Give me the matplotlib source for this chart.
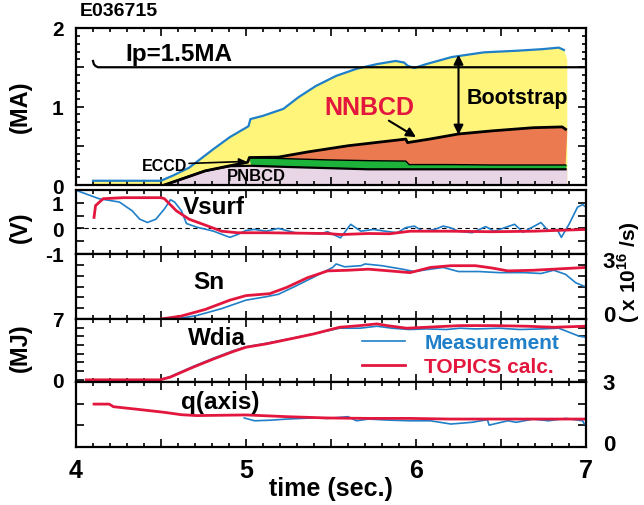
import numpy as np
import matplotlib
matplotlib.use('Agg')
import matplotlib.pyplot as plt
from matplotlib.ticker import MultipleLocator, FixedLocator

plt.rcParams['font.family'] = ['Liberation Sans', 'DejaVu Sans']
plt.rcParams['font.weight'] = 'bold'
plt.rcParams['axes.labelweight'] = 'bold'
plt.rcParams['mathtext.fontset'] = 'custom'
plt.rcParams['mathtext.rm'] = 'Liberation Sans:bold'
plt.rcParams['mathtext.bf'] = 'Liberation Sans:bold'

BLUE = '#1f7fc8'
RED = '#e3173e'
YELLOW = '#fff57a'
ORANGE = '#ec7a50'
GREEN = '#1db33a'
PINK = '#e8d5e5'

# ---- top panel: currents (MA)
ip_t = [4.10, 4.105, 4.115, 4.13, 4.5, 7.0]
ip_v = [1.58, 1.54, 1.515, 1.50, 1.50, 1.50]

tot_t = [4.10, 4.50, 4.57, 4.665, 4.81, 4.905, 5.0, 5.015, 5.026, 5.098, 5.22, 5.31, 5.41,
         5.53, 5.65, 5.77, 5.88, 5.93, 5.95, 5.99, 6.06, 6.21, 6.40, 6.59, 6.74, 6.84, 6.87]
tot_v = [0.054, 0.054, 0.12, 0.22, 0.46, 0.61, 0.73, 0.75, 0.84, 0.88, 0.97, 1.12, 1.26,
         1.39, 1.48, 1.54, 1.58, 1.56, 1.52, 1.49, 1.54, 1.63, 1.69, 1.71, 1.73, 1.75, 1.72]

nb_t = [4.52, 4.64, 4.76, 4.905, 5.01, 5.02, 5.19, 5.36, 5.60, 5.84, 5.94, 5.95,
        6.08, 6.25, 6.45, 6.69, 6.86, 6.88]
nb_v = [0.0, 0.09, 0.18, 0.245, 0.29, 0.35, 0.355, 0.42, 0.50, 0.56, 0.585, 0.54,
        0.585, 0.65, 0.69, 0.73, 0.74, 0.71]

ec_t = [5.02, 5.24, 5.48, 5.72, 5.94, 5.96, 6.21, 6.45, 6.88]
ec_v = [0.35, 0.335, 0.32, 0.31, 0.305, 0.26, 0.26, 0.255, 0.255]

pn_t = [4.52, 4.64, 4.76, 4.905, 5.03, 5.24, 5.48, 5.72, 5.96, 6.21, 6.88]
pn_v = [0.0, 0.09, 0.18, 0.24, 0.245, 0.23, 0.215, 0.20, 0.20, 0.20, 0.20]

# ---- Vsurf (V)
vs_meas_t = [4.0, 4.135, 4.255, 4.33, 4.375, 4.42, 4.47, 4.52, 4.556, 4.58, 4.62, 4.65, 4.71,
             4.81, 4.905, 4.95, 5.0, 5.05, 5.12, 5.19, 5.29, 5.435, 5.48, 5.556, 5.616, 5.676,
             5.75, 5.82, 5.89, 5.94, 5.99, 6.04, 6.11, 6.16, 6.2, 6.25, 6.33, 6.41, 6.46, 6.58,
             6.63, 6.735, 6.78, 6.83, 6.855, 6.9, 6.95, 6.98, 7.0]
vs_meas_v = [1.49, 1.16, 1.03, 0.69, 0.36, 0.23, 0.36, 0.76, 1.12, 1.03, 0.69, 0.19, 0.05,
             -0.11, -0.35, -0.24, -0.08, -0.04, -0.11, 0.0, -0.17, -0.21, -0.13, -0.37, 0.16, -0.11,
             -0.04, -0.11, -0.17, 0.03, 0.09, -0.11, -0.04, 0.09, 0.03, -0.11, -0.17, 0.07, -0.11, 0.16,
             -0.15, 0.23, -0.11, -0.04, -0.35, 0.16, 0.83, 0.93, 0.83]
vs_calc_t = [4.106, 4.115, 4.16, 4.28, 4.50, 4.52, 4.59, 4.665, 4.76, 4.857, 4.95, 5.12,
             5.48, 5.556, 5.72, 5.845, 5.965, 6.2, 6.45, 6.69, 7.0]
vs_calc_v = [0.43, 0.89, 1.16, 1.2, 1.2, 1.16, 0.69, 0.36, 0.13, -0.11, -0.17, -0.17,
             -0.2, -0.24, -0.2, -0.21, -0.11, -0.11, -0.13, -0.11, -0.04]

# ---- Sn (x 10^16 /s)
sn_meas_t = [4.59, 4.71, 4.857, 5.0, 5.12, 5.19, 5.29, 5.41, 5.51, 5.53, 5.58, 5.676, 5.70,
             5.80, 5.92, 5.99, 6.085, 6.16, 6.25, 6.37, 6.49, 6.64, 6.735, 6.81, 6.88, 6.94, 6.99]
sn_meas_v = [0.0, 0.16, 0.48, 0.87, 1.03, 1.14, 1.51, 1.98, 2.38, 2.54, 2.41, 2.46, 2.54,
             2.46, 2.30, 2.19, 2.30, 2.38, 2.19, 2.19, 2.14, 2.14, 2.10, 2.25, 2.06, 1.67, 1.51]
sn_calc_t = [4.50, 4.616, 4.76, 4.905, 5.0, 5.14, 5.24, 5.36, 5.48, 5.60, 5.72, 5.845,
             5.965, 6.085, 6.205, 6.35, 6.45, 6.54, 6.69, 6.81, 7.0]
sn_calc_v = [0.0, 0.13, 0.44, 0.87, 1.08, 1.17, 1.46, 1.90, 2.22, 2.25, 2.30, 2.22,
             2.14, 2.38, 2.46, 2.46, 2.35, 2.22, 2.25, 2.30, 2.38]

# ---- Wdia (MJ)
wd_meas_t = [4.06, 4.49, 4.553, 4.69, 4.81, 4.925, 5.0, 5.12, 5.28, 5.40, 5.55, 5.67, 5.77,
             5.86, 5.96, 6.06, 6.18, 6.26, 6.35, 6.49, 6.61, 6.74, 6.84, 6.9, 6.96, 7.0]
wd_meas_v = [0.0, 0.0, 0.35, 1.55, 2.5, 3.35, 3.8, 4.2, 4.82, 5.3, 5.94, 5.94, 6.17,
             5.94, 5.79, 5.86, 5.79, 5.94, 5.86, 5.94, 5.79, 5.86, 5.94, 5.48, 5.02, 4.9]
wd_calc_t = [4.06, 4.494, 4.553, 4.69, 4.81, 4.925, 5.0, 5.12, 5.28, 5.40, 5.55, 5.67,
             5.77, 5.83, 5.945, 6.06, 6.26, 6.45, 6.65, 6.81, 7.0]
wd_calc_v = [0.0, 0.0, 0.3, 1.46, 2.41, 3.26, 3.75, 4.14, 4.79, 5.29, 6.05, 6.24,
             6.44, 6.24, 5.94, 6.05, 6.24, 6.24, 6.17, 6.05, 6.17]

# ---- q(axis)
q_meas_t = [4.99, 5.05, 5.15, 5.24, 5.39, 5.48, 5.60, 5.65, 5.72, 5.84, 5.965, 6.085, 6.205,
            6.33, 6.42, 6.43, 6.54, 6.59, 6.69, 6.78, 6.88, 6.98, 6.99]
q_meas_v = [1.34, 1.21, 1.24, 1.29, 1.34, 1.32, 1.40, 1.21, 1.29, 1.24, 1.21, 1.21, 1.06,
            1.14, 1.26, 1.01, 1.21, 1.14, 1.29, 1.21, 1.32, 1.21, 1.06]
q_calc_t = [4.106, 4.195, 4.22, 4.35, 4.52, 4.62, 4.71, 5.0, 5.24, 5.48, 5.72, 5.965, 6.2, 6.45, 7.0]
q_calc_v = [1.98, 1.98, 1.86, 1.75, 1.60, 1.49, 1.45, 1.48, 1.40, 1.34, 1.32, 1.32, 1.29, 1.29, 1.29]

W, H = 644, 506
fig = plt.figure(figsize=(W / 100, H / 100), dpi=100)


def rect(top, bottom):
    return [76 / W, 1 - bottom / H, 510 / W, (bottom - top) / H]


def style(ax):
    ax.set_xlim(4, 7)
    ax.xaxis.set_major_locator(MultipleLocator(0.5))
    ax.xaxis.set_minor_locator(MultipleLocator(0.1))
    ax.tick_params(which='both', direction='in', top=True, bottom=True, left=True, right=True,
                   width=1.2, labelsize=15, pad=9)
    ax.tick_params(which='major', length=6)
    ax.tick_params(which='minor', length=3)
    for s in ax.spines.values():
        s.set_linewidth(1.6)
    ax.tick_params(axis='x', labelbottom=False)


def poly(ax, t1, v1, t2, v2, color):
    ax.fill(np.r_[t1, t2[::-1]], np.r_[v1, v2[::-1]], color=color, lw=0)


# top panel
ax0 = fig.add_axes(rect(29, 186))
style(ax0)
ax0.set_ylim(0, 2)
ax0.yaxis.set_major_locator(FixedLocator([0, 0.5, 1, 1.5, 2]))
ax0.yaxis.set_minor_locator(MultipleLocator(0.1))
ax0.set_yticklabels(['0', '', '1', '', '2'])
tt = np.array(tot_t + [6.89, 6.89])
tv = np.array(tot_v + [1.6, 0.0])
poly(ax0, tt, tv, np.array([4.10]), np.array([0.0]), YELLOW)
poly(ax0, np.array(nb_t[5:] + [6.89]), np.array(nb_v[5:] + [0.69]), np.array(ec_t), np.array(ec_v), ORANGE)
poly(ax0, np.array(ec_t + [6.89]), np.array(ec_v + [0.255]), np.array(pn_t[4:]), np.array(pn_v[4:]), GREEN)
poly(ax0, np.array(pn_t + [6.89]), np.array(pn_v + [0.2]), np.array([4.52, 6.89]), np.array([0.0, 0.0]), PINK)
ax0.plot(pn_t, pn_v, color='black', lw=1.6)
ax0.plot(ec_t, ec_v, color='black', lw=1.0)
ax0.plot(nb_t, nb_v, color='black', lw=2.0)
ax0.plot(tot_t, tot_v, color=BLUE, lw=1.6)
ax0.plot(ip_t, ip_v, color='black', lw=1.6)

ax0.text(4.29, 1.67, 'Ip=1.5MA', fontsize=17.5, va='center')
ax0.text(5.46, 0.99, 'NNBCD', fontsize=18, color=RED, va='center')
ax0.text(6.30, 1.12, 'Bootstrap', fontsize=15.5, va='center')
ax0.text(4.39, 0.245, 'ECCD', fontsize=11.5, va='center')
ax0.text(4.89, 0.117, 'PNBCD', fontsize=12, va='center')
ax0.annotate('', xy=(6.0, 0.61), xytext=(5.84, 0.82),
             arrowprops=dict(arrowstyle='-|>', color='black', lw=1.5, mutation_scale=14,
                             shrinkA=0, shrinkB=0))
ax0.annotate('', xy=(6.25, 1.66), xytext=(6.25, 0.64),
             arrowprops=dict(arrowstyle='<|-|>', color='black', lw=1.5, mutation_scale=14,
                             shrinkA=0, shrinkB=0))
ax0.annotate('', xy=(5.0, 0.30), xytext=(4.665, 0.275),
             arrowprops=dict(arrowstyle='-|>', color='black', lw=1.2, mutation_scale=10,
                             shrinkA=0, shrinkB=0))

# Vsurf
ax1 = fig.add_axes(rect(191, 255))
style(ax1)
ax1.set_ylim(-1, 1.5)
ax1.yaxis.set_major_locator(FixedLocator([-1, -0.5, 0, 0.5, 1, 1.5]))
ax1.set_yticklabels(['-1', '', '0', '', '1', ''])
ax1.axhline(0, color='black', lw=0.8, ls=(0, (4, 3)))
ax1.plot(vs_meas_t, vs_meas_v, color=BLUE, lw=1.2)
ax1.plot(vs_calc_t, vs_calc_v, color=RED, lw=2.0)
ax1.text(4.63, 0.86, 'Vsurf', fontsize=17.5, va='center')

# Sn
ax2 = fig.add_axes(rect(255, 320))
style(ax2)
ax2.set_ylim(0, 3)
ax2.yaxis.set_major_locator(MultipleLocator(0.5))
ax2.tick_params(axis='y', labelleft=False)
ax2.plot(sn_meas_t, sn_meas_v, color=BLUE, lw=1.2)
ax2.plot(sn_calc_t, sn_calc_v, color=RED, lw=2.0)
ax2.text(4.69, 1.74, 'Sn', fontsize=17.5, va='center')

# Wdia
ax3 = fig.add_axes(rect(320, 383))
style(ax3)
ax3.set_ylim(-0.25, 7)
ax3.set_yticks(range(0, 8))
ax3.set_yticklabels(['0', '', '', '', '', '', '', '7'])
ax3.plot(wd_meas_t, wd_meas_v, color=BLUE, lw=1.2, label='Measurement')
ax3.plot(wd_calc_t, wd_calc_v, color=RED, lw=2.0, label='TOPICS calc.')
ax3.text(4.66, 4.9, 'Wdia', fontsize=17.5, va='center')
ax3.legend(loc='center left', bbox_to_anchor=(361.7 / W, 1 - 355.5 / H), bbox_transform=fig.transFigure,
           frameon=False, fontsize=15, handlelength=2.1, handletextpad=0.9, labelspacing=0.25,
           borderpad=0, borderaxespad=0, labelcolor=[BLUE, RED])

# q(axis)
ax4 = fig.add_axes(rect(383, 448))
style(ax4)
ax4.set_ylim(0, 3)
ax4.set_yticks([1, 2])
ax4.tick_params(axis='y', labelleft=False)
ax4.tick_params(axis='x', labelbottom=True, labelsize=18, pad=8)
ax4.set_xticks(np.arange(4, 7.01, 0.5))
ax4.set_xticklabels(['4', '', '5', '', '6', '', '7'])
ax4.plot(q_meas_t, q_meas_v, color=BLUE, lw=1.2)
ax4.plot(q_calc_t, q_calc_v, color=RED, lw=2.0)
ax4.text(4.62, 2.12, 'q(axis)', fontsize=17.5, va='center')

# labels outside the axes
fig.text(331 / W, 1 - 489 / H, 'time (sec.)', fontsize=18, fontweight='bold', va='center', ha='center')
fig.text(80 / W, 1 - 12 / H, 'E036715', fontsize=14, va='center', ha='left')
fig.text(20 / W, 1 - 107 / H, '(MA)', fontsize=17, rotation=90, va='center', ha='center')
fig.text(20 / W, 1 - 227 / H, '(V)', fontsize=17, rotation=90, va='center', ha='center')
fig.text(20 / W, 1 - 348 / H, '(MJ)', fontsize=17, rotation=90, va='center', ha='center')
fig.text(629 / W, 1 - 272 / H, r'( x 10$^{16}$ /s)', fontsize=15, rotation=90, va='center', ha='center')
for ylab, ypix in [('3', 263), ('0', 317), ('3', 385), ('0', 446)]:
    fig.text(609 / W, 1 - ypix / H, ylab, fontsize=16, va='center', ha='center')

fig.savefig('out.png', dpi=100)
